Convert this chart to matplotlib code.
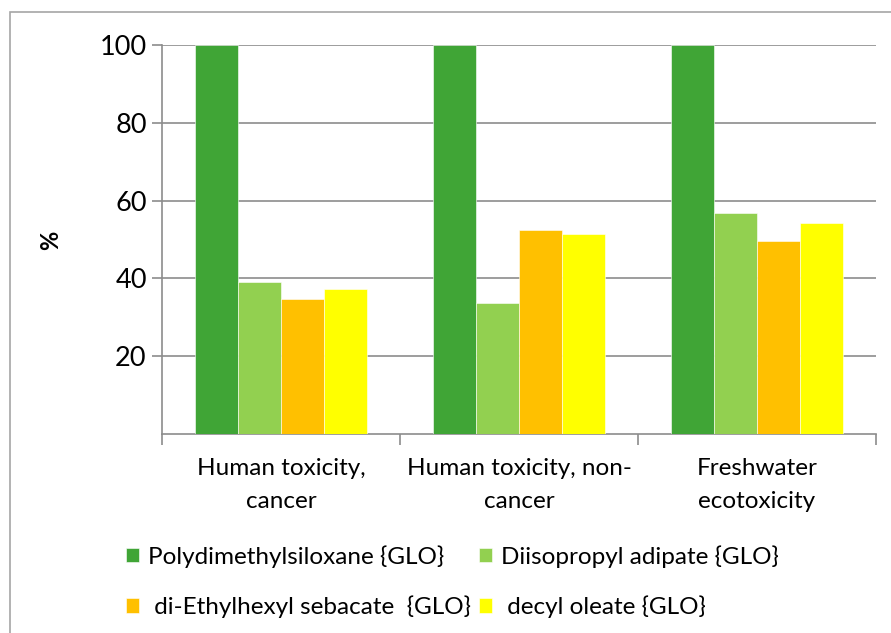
import matplotlib
matplotlib.use("Agg")
import matplotlib.pyplot as plt
from matplotlib.patches import Rectangle
import numpy as np

categories = ["Human toxicity,\ncancer", "Human toxicity, non-\ncancer", "Freshwater\necotoxicity"]
series_names = ["Polydimethylsiloxane {GLO}", "Diisopropyl adipate {GLO}",
                " di-Ethylhexyl sebacate  {GLO}", " decyl oleate {GLO}"]
pdms = [100, 100, 100]
diisopropyl = [39.0, 33.8, 56.8]
sebacate = [34.7, 52.4, 49.6]
oleate = [37.2, 51.4, 54.2]
colors = ["#40A536", "#92D050", "#FFC000", "#FFFF00"]
yticks = [20, 40, 60, 80, 100]

plt.rcParams['font.family'] = ['Lato', 'DejaVu Sans']

fig = plt.figure(figsize=(8.91, 6.33), dpi=100)
fig.patches.append(Rectangle((10/891, 1-700/633), 1.0, (700-12)/633, transform=fig.transFigure,
                             fill=False, edgecolor="#A6A6A6", linewidth=1.2))
ax = fig.add_axes([162/891, 1-434/633, (876-162)/891, (434-45)/633])

data = [pdms, diisopropyl, sebacate, oleate]
x = np.arange(len(categories))
w = 0.18
for i, (vals, name, c) in enumerate(zip(data, series_names, colors)):
    ax.bar(x + (i - 1.5) * w, vals, width=w, color=c, label=name,
           edgecolor="white", linewidth=0.4, zorder=3)

ax.set_xlim(-0.5, 2.5)
ax.set_ylim(0, 100)
ax.set_yticks(yticks)
ax.set_yticklabels([str(v) for v in yticks], fontsize=19.5)
ax.yaxis.grid(True, color="#8C8C8C", linewidth=1.2, zorder=0)
ax.set_xticks(x)
ax.set_xticklabels(categories, fontsize=17.5, linespacing=1.7)
ax.tick_params(axis='x', length=0, pad=17)
ax.set_xticks([-0.5, 0.5, 1.5, 2.5], minor=True)
ax.tick_params(axis='x', which='minor', length=8, color="#8C8C8C", width=1.2, direction='out')
ax.tick_params(axis='y', length=7, color="#8C8C8C", width=1.2, direction='out', pad=4)
for s in ["top", "right"]:
    ax.spines[s].set_visible(False)
for s in ["left", "bottom"]:
    ax.spines[s].set_color("#8C8C8C")
    ax.spines[s].set_linewidth(1.2)
ax.set_ylabel("%", fontsize=17, fontweight="bold")
ax.yaxis.set_label_coords((62-162)/714, (434-240)/389)

handles, labels = ax.get_legend_handles_labels()
order = [0, 2, 1, 3]
leg = fig.legend([handles[i] for i in order], [labels[i] for i in order],
                 loc="upper left", bbox_to_anchor=(104/891, 1-523/633),
                 ncol=2, frameon=False, fontsize=17.5, handlelength=0.55, handleheight=0.55,
                 handletextpad=0.37, columnspacing=0.3, labelspacing=1.15)

fig.savefig("out.png", dpi=100)
